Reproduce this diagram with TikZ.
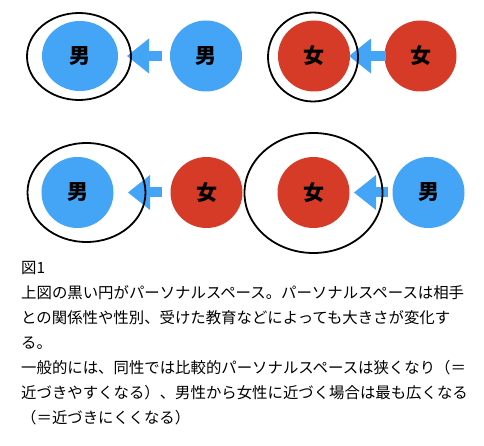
\documentclass[tikz,border=0pt]{standalone}
\usepackage{fontspec}
\newfontfamily\jpfont{Noto Sans CJK JP}
\usetikzlibrary{arrows.meta,shapes.geometric}
\definecolor{ManClr}{RGB}{68,164,245}
\definecolor{WomanClr}{RGB}{214,59,39}

\begin{document}
\begin{tikzpicture}[x=1pt,y=-1pt,
  person/.style={ellipse,inner sep=0pt,minimum width=72pt,minimum height=71pt,
    font=\jpfont\bfseries\fontsize{21}{21}\selectfont},
  man/.style={person,fill=ManClr},
  woman/.style={person,fill=WomanClr},
  pspace/.style={ellipse,draw=black,line width=1.8pt,inner sep=0pt},
  approach/.style={draw=ManClr,line width=10pt,
    -{Triangle[length=22pt,width=35pt,line width=0pt]}},
  caption/.style={anchor=west,inner sep=0pt,font=\jpfont\fontsize{15.4}{15.4}\selectfont}]
\useasboundingbox (0,0) rectangle (484,446);

% upper row: same sex
\node[man,minimum width=76pt,minimum height=70pt] (M1) at (80,56) {男};
\node[man] (M2) at (206,56) {男};
\node[woman] (W1) at (314,56) {女};
\node[woman] (W2) at (420.5,56) {女};

\coordinate (tip1) at (127,56);
\coordinate (tip2) at (349,56);
\draw[approach] ([xshift=-8pt]M2.west) -- (tip1);
\draw[approach] ([xshift=2pt]W2.west) -- (tip2);

\node[pspace,minimum width=104pt,minimum height=87pt] (S1) at (79,56.5) {};
\node[pspace,minimum width=90pt,minimum height=89pt] (S2) at (313,57) {};

% lower row: opposite sex
\node[man] (M3) at (77.5,192.5) {男};
\node[woman] (W3) at (206.5,192.5) {女};
\node[woman] (W4) at (313.5,192.5) {女};
\node[man] (M4) at (428.5,192.5) {男};

\coordinate (tip3) at (128,192.5);
\coordinate (tip4) at (354,192.5);
\draw[approach] ([xshift=-8pt]W3.west) -- (tip3);
\draw[approach] ([xshift=-4pt]M4.west) -- (tip4);

\node[pspace,minimum width=118pt,minimum height=99pt] (S3) at (86.5,192.5) {};
\node[pspace,minimum width=138pt,minimum height=120pt] (S4) at (313.5,193) {};

% caption
\node[caption] (c0) at (21,268) {図1};
\node[caption] (c1) at (21,293) {上図の黒い円がパーソナルスペース。パーソナルスペースは相手};
\node[caption] (c2) at (21,318) {との関係性や性別、受けた教育などによっても大きさが変化す};
\node[caption] (c3) at (21,343) {る。};
\node[caption] (c4) at (21,368) {一般的には、同性では比較的パーソナルスペースは狭くなり（＝};
\node[caption] (c5) at (21,393) {近づきやすくなる）、男性から女性に近づく場合は最も広くなる};
\node[caption] (c6) at (21,418) {（＝近づきにくくなる）};

\end{tikzpicture}
\end{document}
